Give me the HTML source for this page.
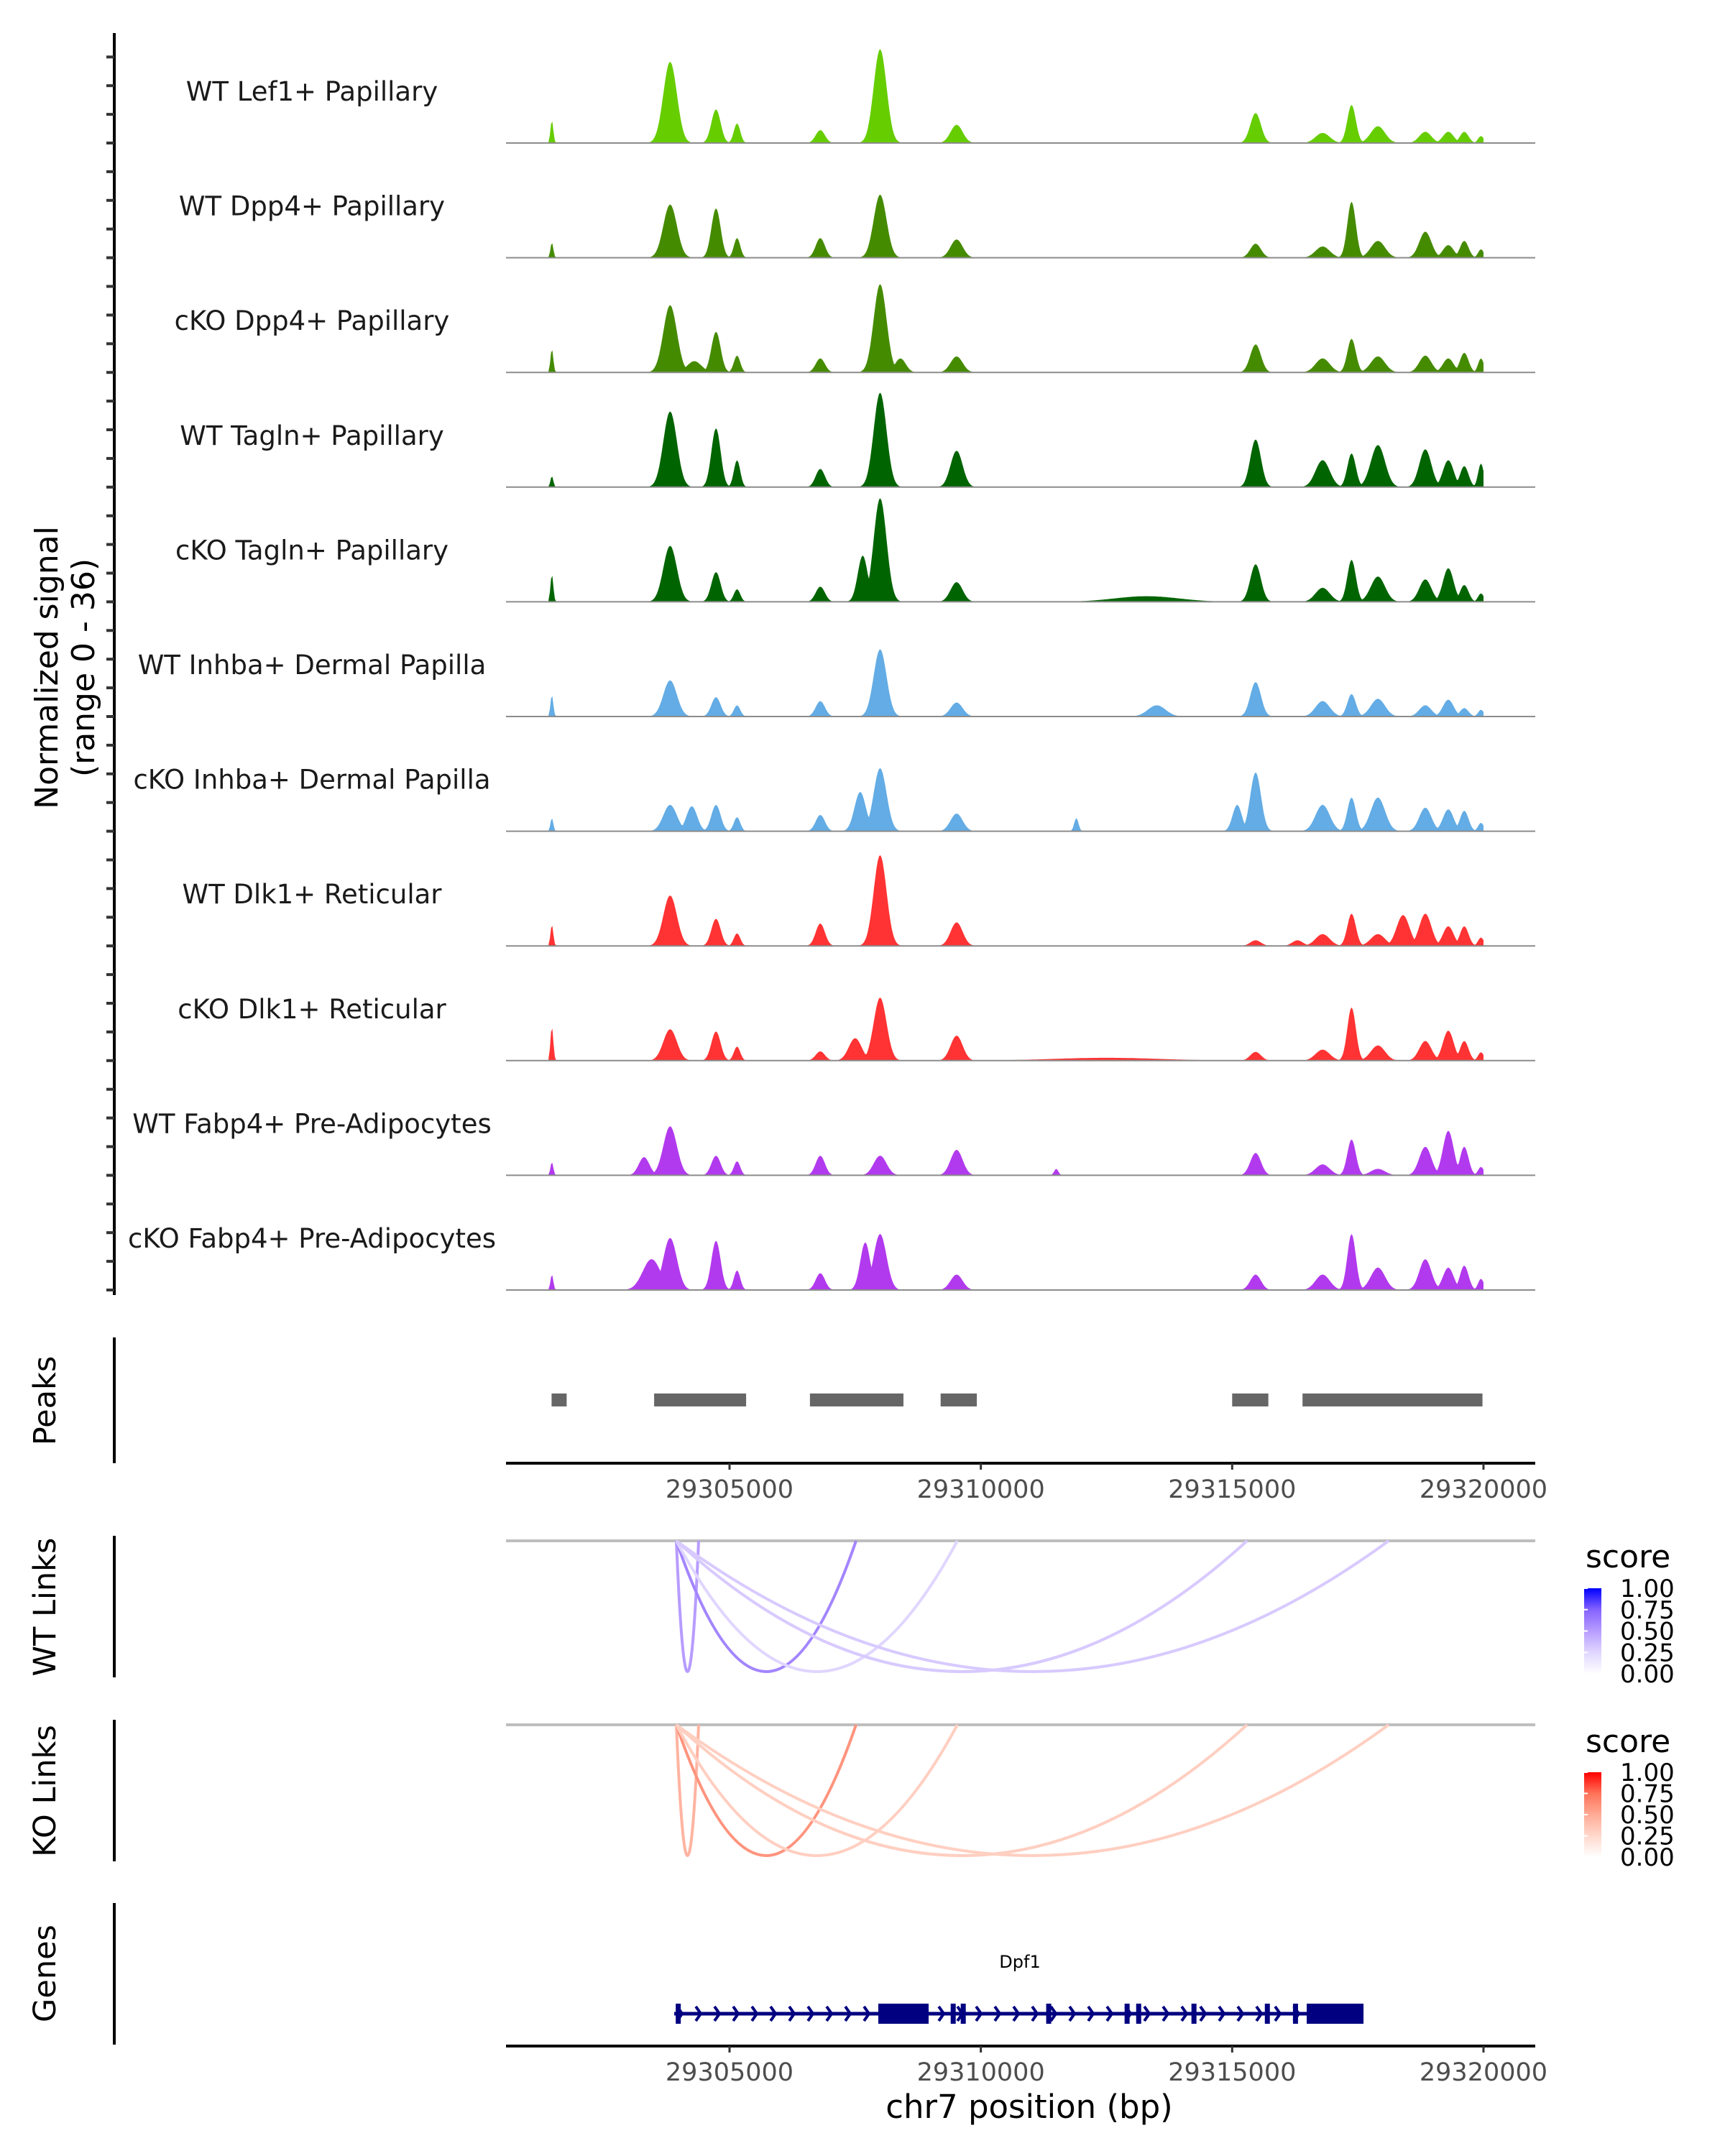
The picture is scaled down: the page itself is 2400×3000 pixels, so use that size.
<!DOCTYPE html>
<html><head><meta charset="utf-8">
<style>
html,body{margin:0;padding:0;background:#fff;}
svg{display:block;font-family:"DejaVu Sans","Liberation Sans",sans-serif;}
</style></head>
<body>
<svg id="chart" width="2400" height="3000" viewBox="0 0 2400 3000" xmlns="http://www.w3.org/2000/svg">
  <rect x="0" y="0" width="2400" height="3000" fill="#fff"/>
  <g id="tracks"></g>
  <line x1="159" y1="46" x2="159" y2="1802" stroke="#000" stroke-width="4"/>
  <g id="yticks"></g>
  <text transform="translate(80,929) rotate(-90)" text-anchor="middle" font-size="44" fill="#000">Normalized signal</text>
  <text transform="translate(131,929) rotate(-90)" text-anchor="middle" font-size="44" fill="#000">(range 0 - 36)</text>

  <!-- Peaks -->
  <line x1="159" y1="1861" x2="159" y2="2036" stroke="#000" stroke-width="4"/>
  <text transform="translate(77,1949) rotate(-90)" text-anchor="middle" font-size="43" fill="#000">Peaks</text>
  <g id="peaks"></g>
  <line x1="704" y1="2036" x2="2136" y2="2036" stroke="#000" stroke-width="4"/>
  <g id="xticks1"></g>

  <!-- WT links -->
  <line x1="159" y1="2137" x2="159" y2="2334" stroke="#000" stroke-width="4"/>
  <text transform="translate(77,2236) rotate(-90)" text-anchor="middle" font-size="43" fill="#000">WT Links</text>
  <line x1="704" y1="2144" x2="2136" y2="2144" stroke="#bebebe" stroke-width="4"/>
  <g id="wtlinks"></g>

  <!-- KO links -->
  <line x1="159" y1="2393" x2="159" y2="2590" stroke="#000" stroke-width="4"/>
  <text transform="translate(77,2492) rotate(-90)" text-anchor="middle" font-size="43" fill="#000">KO Links</text>
  <line x1="704" y1="2400" x2="2136" y2="2400" stroke="#bebebe" stroke-width="4"/>
  <g id="kolinks"></g>

  <!-- legends -->
  <defs>
    <linearGradient id="gBlue" x1="0" y1="1" x2="0" y2="0">
      <stop offset="0" stop-color="#ffffff"/><stop offset="0.25" stop-color="#e0d6ff"/><stop offset="0.5" stop-color="#b79cff"/><stop offset="0.75" stop-color="#8563ff"/><stop offset="1" stop-color="#0000ff"/>
    </linearGradient>
    <linearGradient id="gRed" x1="0" y1="1" x2="0" y2="0">
      <stop offset="0" stop-color="#ffffff"/><stop offset="0.25" stop-color="#ffd8cc"/><stop offset="0.5" stop-color="#ffab96"/><stop offset="0.75" stop-color="#ff7259"/><stop offset="1" stop-color="#ff0000"/>
    </linearGradient>
  </defs>
  <g id="legend-wt">
    <text x="2206" y="2181" font-size="44" fill="#000">score</text>
    <rect x="2204" y="2210" width="24" height="119" fill="url(#gBlue)"/>
  </g>
  <g id="legend-ko">
    <text x="2206" y="2438" font-size="44" fill="#000">score</text>
    <rect x="2204" y="2466" width="24" height="118" fill="url(#gRed)"/>
  </g>
  <g id="legendlabels"></g>

  <!-- Genes -->
  <line x1="159" y1="2648" x2="159" y2="2845" stroke="#000" stroke-width="4"/>
  <text transform="translate(77,2746) rotate(-90)" text-anchor="middle" font-size="43" fill="#000">Genes</text>
  <text x="1419" y="2738" text-anchor="middle" font-size="24" fill="#000">Dpf1</text>
  <g id="gene"></g>
  <line x1="704" y1="2847" x2="2136" y2="2847" stroke="#000" stroke-width="4"/>
  <g id="xticks2"></g>
  <text x="1432" y="2947" text-anchor="middle" font-size="45" fill="#000">chr7 position (bp)</text>
</svg>
<script>
// ---------- data ----------
const trackNames = ["WT Lef1+ Papillary","WT Dpp4+ Papillary","cKO Dpp4+ Papillary","WT Tagln+ Papillary","cKO Tagln+ Papillary","WT Inhba+ Dermal Papilla","cKO Inhba+ Dermal Papilla","WT Dlk1+ Reticular","cKO Dlk1+ Reticular","WT Fabp4+ Pre-Adipocytes","cKO Fabp4+ Pre-Adipocytes"];
const trackColors = ["#66cd00","#458b00","#458b00","#006400","#006400","#63ace5","#63ace5","#ff3333","#ff3333","#b23aee","#b23aee"];
// peak positions (bp) shared across tracks
const peakPos = [29301466,29303818,29304731,29305150,29306806,29307996,29309518,29315467,29316800,29317376,29317900,29318843,29319300,29319618,29319950];
const peakWidth = [40,190,130,90,130,180,170,150,200,120,200,170,150,120,80];
// heights per track (normalized signal 0-36), one per peakPos
const heightsLef1WT   = [8,29,12,7,4.6,33.5,6.5,10.7,3.6,13.6,6,4,4,4,2.5];
const heightsDpp4WT   = [5.4,19,17.6,7,7,22.5,6.5,5,4,20,6,9.3,4.5,6,3];
const heightsDpp4KO   = [8.3,24,14.5,6,5,31.5,5.7,10,5,12,5.7,6,5,7,5];
const heightsTaglnWT  = [3.9,27,21,9.6,6.5,33.7,13,17,9.6,12,15,13.5,9.6,7.5,8.4];
const heightsTaglnKO  = [9.7,20,10.6,4.5,5.4,37,7,13.4,5,15,9,8,12,6,3];
const heightsInhbaWT  = [7.6,12.9,6.9,4,5.5,24,5,12.3,5.5,8,6.3,4,6,3,2.4];
const heightsInhbaKO  = [4.7,9.4,9.4,5,5.8,22.5,6.3,21,9.4,12,12,8.4,7.8,7.3,3];
const heightsDlk1WT   = [7.5,18,9.7,4.5,8,32.4,8.4,2,4.2,11.5,4.2,11.5,7,7,3];
const heightsDlk1KO   = [12,11.2,10.4,5,3.3,22.5,8.9,3.1,3.9,19,5.4,7,10.7,7,3];
const heightsFabp4WT  = [4.7,17.5,7,5,7,7,9.1,8,3.9,12.8,2.3,10.2,15.9,10.2,3];
const heightsFabp4KO  = [5.5,18.6,17.6,7,6,20,5.5,5.5,5.5,20,8,11,8,8.7,4];
const trackHeights = [heightsLef1WT,heightsDpp4WT,heightsDpp4KO,heightsTaglnWT,heightsTaglnKO,heightsInhbaWT,heightsInhbaKO,heightsDlk1WT,heightsDlk1KO,heightsFabp4WT,heightsFabp4KO];
// extra shoulder peaks [bp, height, width] per track
const shouldersDpp4KO = [[29304300,4,200],[29308400,5,150]];
const shouldersTaglnKO = [[29307650,16.5,140],[29313300,2,900]];
const shouldersInhbaKO = [[29304250,8.9,150],[29307600,14,160],[29315100,9.4,130],[29311900,4.7,60]];
const shouldersInhbaWT = [[29313500,4,250]];
const shouldersDlk1WT = [[29318400,11,180],[29316300,2,150]];
const shouldersDlk1KO = [[29307500,8,180],[29312500,1,1500]];
const shouldersFabp4WT = [[29303300,6.5,150],[29311500,2.3,60]];
const shouldersFabp4KO = [[29303450,11,250],[29307700,17,140]];
const trackShoulders = [[],[],shouldersDpp4KO,[],shouldersTaglnKO,shouldersInhbaWT,shouldersInhbaKO,shouldersDlk1WT,shouldersDlk1KO,shouldersFabp4WT,shouldersFabp4KO];

const peakStarts = [29301460,29303500,29306600,29309200,29315000,29316400];
const peakEnds   = [29301760,29305330,29308460,29309920,29315720,29319980];

const xTicks = [29305000,29310000,29315000,29320000];
const xTickLabels = ["29305000","29310000","29315000","29320000"];

const linkStart = 29303942;
const linkEnds = [29304385,29307517,29309533,29315296,29318113];
const wtScores = [0.5,0.6,0.25,0.3,0.3];
const koScores = [0.45,0.6,0.3,0.3,0.3];
const legendTicks = [0,0.25,0.5,0.75,1];
const legendLabels = ["0.00","0.25","0.50","0.75","1.00"];

const geneStart = 29303900, geneEnd = 29317613;
const exonStarts = [29303930,29307960,29309400,29309600,29311300,29312860,29313090,29314190,29315650,29316210,29316483];
const exonEnds   = [29304010,29308961,29309470,29309670,29311370,29312930,29313160,29314260,29315720,29316270,29317613];

// ---------- scales ----------
const XMIN = 29300553, XMAX = 29321030, PX0 = 704, PX1 = 2136;
function xs(bp){ return PX0 + (bp - XMIN) / (XMAX - XMIN) * (PX1 - PX0); }
const UNIT = 3.9; // px per signal unit
const base0 = 199, trackStep = 159.6;
const NS = "http://www.w3.org/2000/svg";
function mk(tag, attrs, parent){ const e = document.createElementNS(NS, tag); for (const k in attrs) e.setAttribute(k, attrs[k]); parent.appendChild(e); return e; }

// ---------- signal tracks ----------
const tracksG = document.getElementById('tracks');
const sigStart = 29301400, sigEnd = 29320000;
trackNames.forEach((name, t) => {
  const by = base0 + t * trackStep;
  const g = mk('g', {}, tracksG);
  
  
  const lab = mk('text', {x: 434, y: by - 59, 'text-anchor': 'middle', 'font-size': 37, fill: '#1a1a1a'}, g);
  lab.textContent = name;
  
  
  const hs = trackHeights[t], sh = trackShoulders[t];
  let d = 'M' + xs(sigStart).toFixed(1) + ',' + by;
  for (let bp = sigStart; bp <= sigEnd; bp += 25) {
    let v = 0;
    for (let i = 0; i < peakPos.length; i++) {
      const z = (bp - peakPos[i]) / peakWidth[i];
      v = Math.max(v, hs[i] * Math.exp(-z * z));
    }
    for (const s of sh) {
      const z = (bp - s[0]) / s[2];
      v = Math.max(v, s[1] * Math.exp(-z * z));
    }
    d += 'L' + xs(bp).toFixed(1) + ',' + (by - v * UNIT).toFixed(1);
  }
  d += 'L' + xs(sigEnd).toFixed(1) + ',' + by + 'Z';
  const p = mk('path', {d: d, fill: trackColors[t]}, g);
  
  
  const bl = mk('line', {x1: PX0, x2: PX1, y1: by, y2: by, stroke: '#8c8c8c', 'stroke-width': 2}, g);
  
  
});
const yt = document.getElementById('yticks');
for (let y = base0 - 3 * trackStep / 4; y < 1802; y += trackStep / 4) {
  const l = mk('line', {x1: 148, x2: 159, y1: y.toFixed(1), y2: y.toFixed(1), stroke: '#333', 'stroke-width': 4}, yt);
  
  
}

// ---------- peaks ----------
const pg = document.getElementById('peaks');
peakStarts.forEach((s, i) => {
  const r = mk('rect', {x: xs(s), y: 1939, width: xs(peakEnds[i]) - xs(s), height: 18, fill: '#666666'}, pg);
  
  
});

// ---------- x ticks ----------
function drawTicks(id, axisY) {
  const g = document.getElementById(id);
  xTicks.forEach((v, i) => {
    const x = xs(v);
    const l = mk('line', {x1: x, x2: x, y1: axisY, y2: axisY + 9, stroke: '#333', 'stroke-width': 3}, g);
    
    
    const t = mk('text', {x: x, y: axisY + 48, 'text-anchor': 'middle', 'font-size': 35, fill: '#4d4d4d'}, g);
    t.textContent = xTickLabels[i];
    
    
  });
}
drawTicks('xticks1', 2036);
drawTicks('xticks2', 2847);

// ---------- links ----------
const blueStops = [[255,255,255],[224,214,255],[183,156,255],[133,99,255],[0,0,255]];
const redStops = [[255,255,255],[255,216,204],[255,171,150],[255,114,89],[255,0,0]];
function col(stops, s) {
  const f = Math.min(0.9999, Math.max(0, s)) * 4, i = Math.floor(f), r = f - i;
  const a = stops[i], b = stops[i + 1];
  return 'rgb(' + a.map((c, k) => Math.round(c + (b[k] - c) * r)).join(',') + ')';
}
function drawLinks(id, y0, depth, scores, stops) {
  const g = document.getElementById(id);
  linkEnds.forEach((e, i) => {
    const x1 = xs(linkStart), x2 = xs(e);
    const cy = y0 + depth * 2;
    const p = mk('path', {d: `M${x1},${y0} Q${(x1 + x2) / 2},${cy} ${x2},${y0}`, fill: 'none', stroke: col(stops, scores[i]), 'stroke-width': 4}, g);
    
    
  });
}
drawLinks('wtlinks', 2144, 182, wtScores, blueStops);
drawLinks('kolinks', 2400, 182, koScores, redStops);

// ---------- legend labels ----------
const ll = document.getElementById('legendlabels');
[[2329, 2210], [2584, 2466]].forEach(([yb, yt2]) => {
  legendTicks.forEach((v, i) => {
    const y = yb - v * (yb - yt2);
    const t = mk('text', {x: 2254, y: y + 12, 'font-size': 34, fill: '#000'}, ll);
    t.textContent = legendLabels[i];
    
    
    const tk = mk('line', {x1: 2204, x2: 2209, y1: y, y2: y, stroke: '#fff', 'stroke-width': 2}, ll);
    
    
  });
});

// ---------- gene ----------
const gg = document.getElementById('gene');
const gy = 2802;
const gl = mk('line', {x1: xs(geneStart), x2: xs(geneEnd), y1: gy, y2: gy, stroke: '#000080', 'stroke-width': 5}, gg);


for (let x = xs(geneStart) + 4; x < xs(geneEnd) - 20; x += 26) {
  const a = mk('path', {d: `M${x},${gy - 10} L${x + 7},${gy} L${x},${gy + 10}`, fill: 'none', stroke: '#000080', 'stroke-width': 4}, gg);
  
  
}
exonStarts.forEach((s, i) => {
  const x1 = xs(s), w = Math.max(7, xs(exonEnds[i]) - x1);
  const r = mk('rect', {x: x1, y: gy - 14, width: w, height: 28, fill: '#000080'}, gg);
  
  
});
</script>
</body></html>
